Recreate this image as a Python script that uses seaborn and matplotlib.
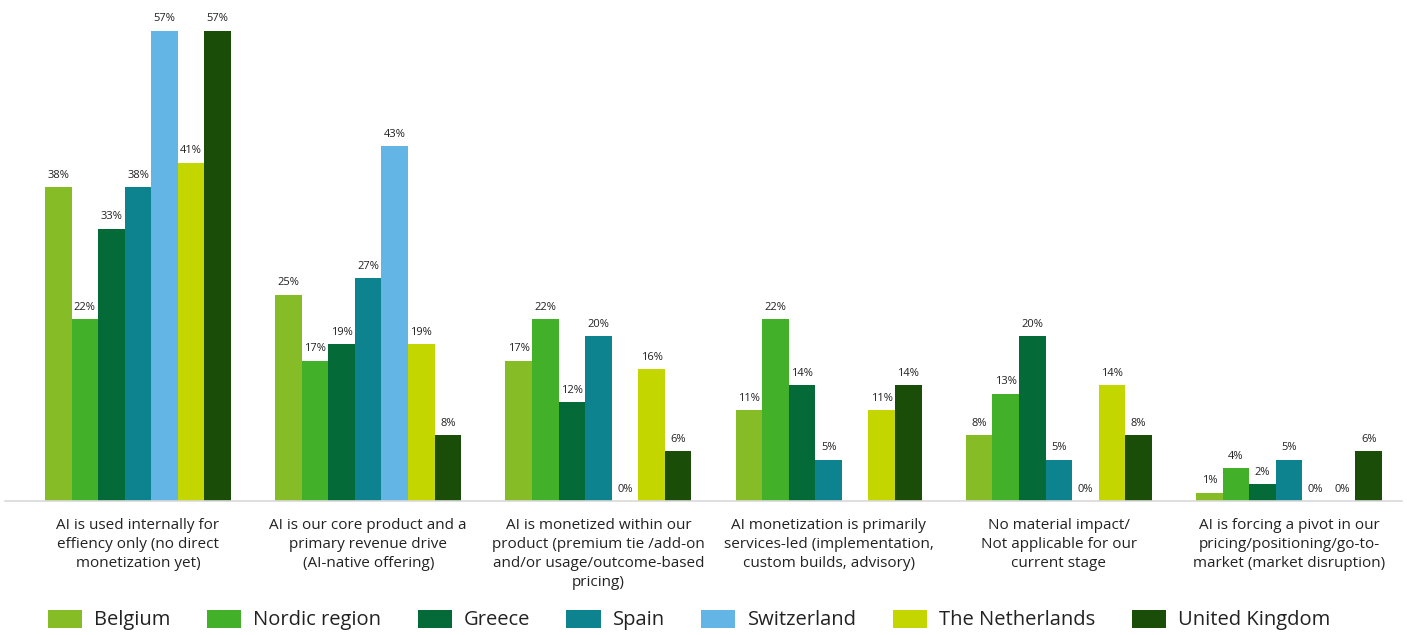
import numpy as np
import pandas as pd
import matplotlib
matplotlib.use("Agg")
import matplotlib.pyplot as plt
import seaborn as sns

categories = [
    "AI is used internally for\neffiency only (no direct\nmonetization yet)",
    "AI is our core product and a\nprimary revenue drive\n(AI-native offering)",
    "AI is monetized within our\nproduct (premium tie /add-on\nand/or usage/outcome-based\npricing)",
    "AI monetization is primarily\nservices-led (implementation,\ncustom builds, advisory)",
    "No material impact/\nNot applicable for our\ncurrent stage",
    "AI is forcing a pivot in our\npricing/positioning/go-to-\nmarket (market disruption)",
]
countries = ["Belgium", "Nordic region", "Greece", "Spain", "Switzerland",
             "The Netherlands", "United Kingdom"]

belgium = [38, 25, 17, 11, 8, 1]
nordic = [22, 17, 22, 22, 13, 4]
greece = [33, 19, 12, 14, 20, 2]
spain = [38, 27, 20, 5, 5, 5]
switzerland = [57, 43, 0, np.nan, 0, 0]
netherlands = [41, 19, 16, 11, 14, 0]
united_kingdom = [57, 8, 6, 14, 8, 6]

colors = ["#86BC25", "#43B02A", "#046A38", "#0D8390", "#62B5E5",
          "#C4D600", "#1A4E08"]

series = [belgium, nordic, greece, spain, switzerland, netherlands, united_kingdom]
rows = []
for country, vals in zip(countries, series):
    for cat, v in zip(categories, vals):
        if not np.isnan(v):
            rows.append({"category": cat, "country": country, "value": v})
df = pd.DataFrame(rows)

sns.set_theme(style="white")
plt.rcParams["font.family"] = ["Open Sans", "DejaVu Sans"]

W, H = 1407, 635
fig = plt.figure(figsize=(W / 100, H / 100), dpi=100)
ax_left, ax_right = 5, 1402
ax_bottom, ax_top = 501, 10
ax = fig.add_axes([ax_left / W, (H - ax_bottom) / H,
                   (ax_right - ax_left) / W, (ax_bottom - ax_top) / H])

sns.barplot(data=df, x="category", y="value", hue="country",
            order=categories, hue_order=countries, palette=colors,
            width=0.808, gap=0, saturation=1, ax=ax, legend=True,
            errorbar=None, linewidth=0)

for cont in ax.containers:
    ax.bar_label(cont, fmt="%.0f%%", padding=4.5, fontsize=8, color="#222222")

step = 230.2
c0 = 138
ax.set_xlim((ax_left - c0) / step, (ax_right - c0) / step)
ax.set_ylim(0, 59.5)
ax.set_xlabel("")
ax.set_ylabel("")
ax.set_yticks([])
ax.tick_params(axis="x", length=0, pad=12, labelsize=11, labelcolor="#222222")
for lbl in ax.get_xticklabels():
    lbl.set_linespacing(1.38)
    lbl.set_verticalalignment("top")
for s in ["top", "right", "left"]:
    ax.spines[s].set_visible(False)
ax.spines["bottom"].set_color("#D9D9D9")
ax.spines["bottom"].set_linewidth(1.2)

handles, labels = ax.get_legend_handles_labels()
ax.legend_.remove()
fig.legend(handles, labels, ncol=7, loc="center left",
           bbox_to_anchor=(48 / W, 1 - 620 / H), frameon=False,
           fontsize=14.5, handlelength=1.7, handleheight=1.0,
           handletextpad=0.6, columnspacing=1.8, borderaxespad=0,
           borderpad=0, labelcolor="#222222")

fig.savefig("out.png", dpi=100)
